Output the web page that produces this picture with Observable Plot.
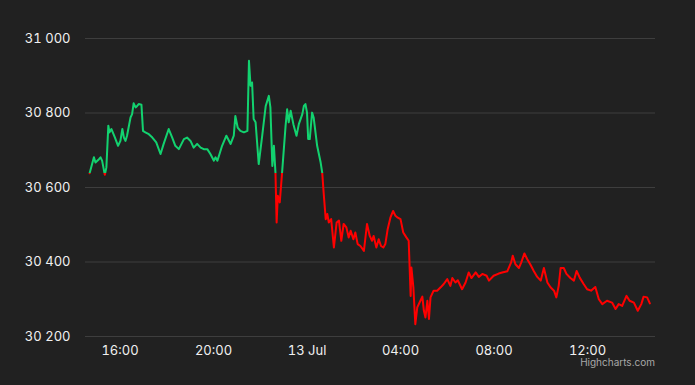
<!DOCTYPE html>
<html>
<head>
<meta charset="utf-8">
<script src="https://cdn.jsdelivr.net/npm/d3@7"></script>
<script src="https://cdn.jsdelivr.net/npm/@observablehq/plot@0.6"></script>
<style>
  html, body { margin: 0; padding: 0; background: #212121; }
  #wrap { position: relative; width: 695px; height: 385px; background: #212121; overflow: hidden; }
  #credit { position: absolute; right: 40px; top: 357px; font: 10px/11px Inter, "Liberation Sans", sans-serif; color: #a8a8a8; }
</style>
</head>
<body>
<div id="wrap"><div id="credit">Highcharts.com</div></div>
<script>
// Times (12 Jul 14:42 → 13 Jul 14:40, UTC), day rolls over when the clock wraps
const times = [
"14:42","14:53","14:57","15:06","15:10","15:14","15:21","15:25","15:30","15:33","15:38","15:47","15:55",
"16:01","16:06","16:10","16:14","16:18","16:27","16:31","16:35","16:40","16:44","16:48","16:55","16:59",
"17:05","17:14","17:23","17:33","17:44","17:52","18:05","18:14","18:22","18:31","18:44","18:52",
"19:01","19:09","19:18","19:27","19:35","19:44","19:52","20:01","20:05","20:10","20:22","20:33","20:44",
"20:52","20:56","21:02","21:09","21:18","21:27","21:31","21:35","21:39","21:43","21:48","21:56",
"22:05","22:14","22:22","22:26","22:31","22:35","22:39","22:42","22:45","22:50","22:56",
"23:05","23:09","23:13","23:18","23:25","23:33","23:39","23:48","23:52","23:56",
"00:00","00:03","00:07","00:13","00:17","00:26","00:35","00:39","00:43","00:48","00:52","00:56",
"01:02","01:09","01:16","01:22","01:28","01:34","01:41","01:47","01:52","01:59",
"02:04","02:10","02:17","02:26","02:34","02:41","02:47","02:51","02:58",
"03:04","03:10","03:16","03:21","03:27","03:34","03:41","03:47","03:53",
"04:00","04:07","04:15","04:21","04:26","04:28","04:33","04:38","04:43","04:51","04:56",
"05:00","05:04","05:09","05:13","05:17","05:25","05:34","05:43","05:51",
"06:00","06:08","06:13","06:21","06:27","06:38","06:47","06:55",
"07:02","07:13","07:21","07:30","07:41","07:47","07:59",
"08:12","08:21","08:34","08:44","08:48","08:55","09:04","09:10","09:18","09:25","09:34","09:42","09:51",
"10:00","10:08","10:17","10:25","10:34","10:40","10:46","10:51","10:59",
"11:06","11:16","11:25","11:32","11:40","11:50","11:59",
"12:09","12:20","12:29","12:38","12:50","13:03","13:12","13:20","13:29","13:40","13:48","13:59",
"14:09","14:18","14:24","14:33","14:40"
];
const prices = [
30638,30681,30667,30676,30681,30672,30634,30654,30766,30748,30757,30734,30712,
30725,30757,30734,30725,30739,30788,30797,30826,30815,30819,30824,30822,30752,
30748,30743,30734,30721,30690,30717,30757,30734,30712,30703,30730,30734,
30725,30707,30717,30707,30703,30703,30690,30672,30681,30672,30712,30739,30717,
30739,30792,30761,30752,30748,30752,30940,30873,30882,30784,30775,30663,
30739,30819,30846,30815,30658,30712,30640,30506,30578,30560,30640,
30766,30810,30775,30806,30770,30739,30770,30797,30819,30824,
30801,30730,30730,30801,30788,30712,30667,30640,30582,30515,30529,30506,
30515,30439,30506,30511,30457,30502,30493,30466,30484,30461,
30479,30448,30443,30430,30502,30470,30457,30470,30439,
30461,30443,30439,30448,30488,30519,30537,30524,30519,
30515,30479,30466,30457,30309,30385,30332,30233,30278,30296,30307,
30269,30251,30296,30247,30305,30323,30323,30332,30341,
30354,30336,30357,30345,30351,30327,30345,30372,
30357,30372,30360,30368,30363,30350,30363,
30369,30372,30375,30399,30417,30394,30384,30399,30423,30408,30392,30376,30360,
30350,30384,30345,30332,30323,30305,30336,30384,30384,
30368,30357,30350,30376,30358,30341,30327,
30323,30333,30300,30287,30296,30291,30274,30287,30282,30309,30296,30291,
30269,30287,30307,30305,30289
];
const threshold = 30640;
const yTicks = [30200, 30400, 30600, 30800, 31000];
const xTicks = ["2023-07-12T16:00Z","2023-07-12T20:00Z","2023-07-13T00:00Z","2023-07-13T04:00Z","2023-07-13T08:00Z","2023-07-13T12:00Z"];
const xDomain = ["2023-07-12T14:31:24Z","2023-07-13T14:54:30Z"];
const upColor = "#12d26f";
const downColor = "#ff0000";

// build table
let day = 12, prev = "";
const data = times.map((t, i) => {
  if (prev && t < prev) day += 1;
  prev = t;
  return { date: new Date(`2023-07-${day}T${t}:00Z`), price: prices[i] };
});

const fmtY = d => d3.format(",")(d).replace(/,/g, " ");
const fmtX = d => d.getUTCHours() === 0 && d.getUTCMinutes() === 0 ? d3.utcFormat("%-d %b")(d) : d3.utcFormat("%H:%M")(d);

const chart = Plot.plot({
  width: 695,
  height: 385,
  marginLeft: 85,
  marginRight: 40,
  marginTop: 38,
  marginBottom: 49,
  style: { background: "transparent", color: "#f0f0f0", fontFamily: "Inter, 'Liberation Sans', sans-serif", fontSize: "13px" },
  x: { type: "utc", domain: xDomain.map(d => new Date(d)) },
  y: { domain: [30200, 31000] },
  marks: [
    Plot.ruleY(yTicks, { stroke: "#3e3e3e", strokeWidth: 1 }),
    Plot.axisY({ ticks: yTicks, tickSize: 0, tickPadding: 15, tickFormat: fmtY, fontSize: 13, label: null }),
    Plot.axisX({ ticks: xTicks.map(d => new Date(d)), tickSize: 0, tickPadding: 9, tickFormat: fmtX, fontSize: 13, label: null }),
    Plot.line(data, { x: "date", y: "price", stroke: "url(#zoneGrad)", strokeWidth: 2, strokeLinejoin: "round" })
  ]
});

// threshold zone colouring via a gradient placed at the y scale position of the threshold
const ty = chart.scale("y").apply(threshold);
const ns = "http://www.w3.org/2000/svg";
const defs = document.createElementNS(ns, "defs");
const grad = document.createElementNS(ns, "linearGradient");
grad.setAttribute("id", "zoneGrad");
grad.setAttribute("gradientUnits", "userSpaceOnUse");
grad.setAttribute("x1", 0); grad.setAttribute("x2", 0);
grad.setAttribute("y1", 0); grad.setAttribute("y2", 385);
const off = ty / 385;
[[0, upColor], [off, upColor], [off, downColor], [1, downColor]].forEach(([o, c]) => {
  const s = document.createElementNS(ns, "stop");
  s.setAttribute("offset", o);
  s.setAttribute("stop-color", c);
  grad.appendChild(s);
});
defs.appendChild(grad);
chart.insertBefore(defs, chart.firstChild);

document.getElementById("wrap").prepend(chart);
</script>
</body>
</html>
